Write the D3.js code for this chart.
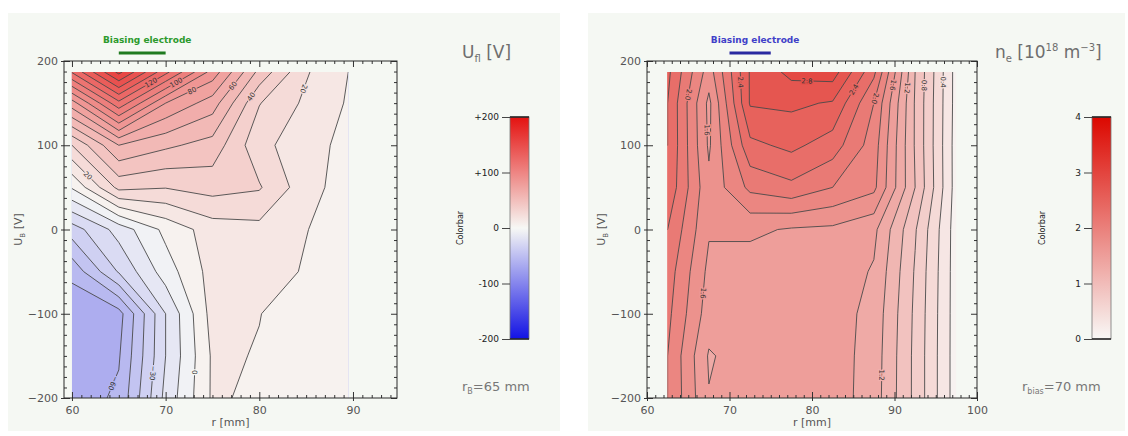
<!DOCTYPE html>
<html>
<head>
<meta charset="utf-8">
<title>Biasing scan: floating potential and density</title>
<script src="https://d3js.org/d3.v7.min.js"></script>
<style>
	body { margin: 0; background: #fff; }
	svg text { font-family: "DejaVu Sans", "Liberation Sans", sans-serif; }
</style>
</head>
<body>
<svg id="chart" width="1128" height="436"></svg>
<script>

// Floating potential U_fl [V]. Rows: bias voltage U_B [V] (top to bottom), columns: radius r [mm]
const ufl_r = [60, 65, 70, 75, 80, 85, 89.5];
const ufl_ub = [187, 150, 100, 50, 0, -50, -100, -150, -200];
const ufl_grid = [
	[121, 163, 123, 86, 47, 21, 10],
	[75.5, 117, 80, 65, 30.5, 18, 9],
	[30, 60, 52, 46, 23, 14, 7],
	[1, 33, 30.5, 34, 31, 14, 5],
	[-35, -16, 2.75, 15, 17, 10.3, 5],
	[-57, -29, -5, 14, 15, 9, 5],
	[-68, -64, -20, 14, 10.2, 6, 4],
	[-68, -61, -20, 11.5, 9.5, 5, 3],
	[-66, -58, -17, 11.5, 7.9, 5, 3]
];
const ufl_levels = [-70, -60, -50, -40, -30, -20, -10, 0, 10, 20, 30, 40, 50, 60, 70, 80, 90, 100, 110, 120, 130, 140, 150, 160];
// labelled contours: [level, r near label, U_B near label]
const ufl_labels = [[120, 68.3, 177], [100, 71.2, 173], [80, 72.9, 163], [60, 76.9, 173], [40, 78.7, 161],
	[20, 84.5, 168], [20, 62.5, 73], [-60, 64.5, -183], [-30, 68.1, -170], [0, 72, -169]];

// Electron density n_e [10^18 m^-3]
const ne_r = [62.5, 67.5, 72.5, 77.5, 82.5, 87.5, 92.5, 97.5];
const ne_ub = [187, 150, 100, 50, 0, -50, -100, -150, -200];
const ne_grid = [
	[2.45, 1.70, 2.62, 2.86, 2.90, 2.25, 1.00, 0.12],
	[2.40, 1.55, 2.62, 2.64, 2.58, 2.00, 0.98, 0.12],
	[2.40, 1.57, 2.35, 2.45, 2.30, 1.90, 0.98, 0.11],
	[2.35, 1.65, 2.05, 2.15, 2.00, 1.85, 1.00, 0.11],
	[2.20, 1.62, 1.64, 1.58, 1.56, 1.45, 0.82, 0.10],
	[2.10, 1.55, 1.50, 1.50, 1.52, 1.38, 0.78, 0.10],
	[2.05, 1.50, 1.50, 1.50, 1.50, 1.33, 0.76, 0.10],
	[2.00, 1.38, 1.50, 1.50, 1.50, 1.31, 0.75, 0.10],
	[2.00, 1.41, 1.50, 1.50, 1.50, 1.30, 0.75, 0.10]
];
const ne_levels = [0.2, 0.4, 0.6, 0.8, 1.0, 1.2, 1.4, 1.6, 1.8, 2.0, 2.2, 2.4, 2.6, 2.8];
const ne_labels = [[2.4, 62.6, 171], [2.0, 65, 160], [1.6, 67.4, 118], [2.8, 79.4, 183], [2.4, 85.6, 163],
	[2.0, 88.2, 154], [1.6, 90.1, 171], [1.2, 91.5, 168], [0.8, 93.7, 171], [0.4, 95.9, 175],
	[1.6, 66.1, -75], [1.2, 89, -173]];

// axes
const left_x_ticks = [60, 70, 80, 90];
const right_x_ticks = [60, 70, 80, 90, 100];
const y_ticks = [200, 100, 0, -100, -200];
const ufl_bar_ticks = [200, 100, 0, -100, -200];
const ne_bar_ticks = [4, 3, 2, 1, 0];

const svg = d3.select('#chart');
const defs = svg.append('defs');

const PANEL_BG = '#f5f8f3';
const ufl_color = d3.scaleLinear().domain([-200, 0, 200]).range(['#1212e4', '#f7f8f5', '#e41210']);
const ne_color = d3.scaleLinear().domain([0, 4]).range(['#f8f8f6', '#dc0800']);

function minorTicks(lo, hi, step, majors) {
	const out = [];
	for (let v = lo; v <= hi + 1e-9; v += step) {
		if (!majors.some(m => Math.abs(m - v) < 1e-6)) out.push(v);
	}
	return out;
}

function drawContours(g, cfg) {
	const nx = cfg.r.length, ny = cfg.ub.length;
	// repeat the border samples once so lines meet the data edge where they should
	const px = nx + 2, py = ny + 2;
	const flat = [];
	for (let j = 0; j < py; j++) {
		const jj = Math.max(0, Math.min(ny - 1, j - 1));
		for (let i = 0; i < px; i++) {
			const ii = Math.max(0, Math.min(nx - 1, i - 1));
			flat.push(cfg.grid[jj][ii]);
		}
	}
	const gx = d3.scaleLinear().domain(cfg.r.map((d, i) => i + 1.5)).range(cfg.r);
	const gy = d3.scaleLinear().domain(cfg.ub.map((d, j) => j + 1.5)).range(cfg.ub);
	const xs = cfg.x, ys = cfg.y;
	const toPx = p => [xs(gx(p[0])), ys(gy(p[1]))];
	const path = d3.geoPath(d3.geoTransform({
		point(x, y) { const q = toPx([x, y]); this.stream.point(q[0], q[1]); }
	}));

	const contours = d3.contours().size([px, py]).thresholds(cfg.levels)(flat);
	const step = cfg.levels[1] - cfg.levels[0];

	const clip = {
		x0: xs(cfg.r[0]), x1: xs(cfg.r[nx - 1]),
		y0: ys(cfg.ub[0]), y1: ys(cfg.ub[ny - 1])
	};
	defs.append('clipPath').attr('id', cfg.id + '-clip')
		.append('rect')
		.attr('x', clip.x0).attr('y', clip.y0)
		.attr('width', clip.x1 - clip.x0).attr('height', clip.y1 - clip.y0);

	const area = g.append('g').attr('clip-path', `url(#${cfg.id}-clip)`);

	area.append('rect')
		.attr('x', clip.x0).attr('y', clip.y0)
		.attr('width', clip.x1 - clip.x0).attr('height', clip.y1 - clip.y0)
		.attr('fill', cfg.color(cfg.levels[0] - step / 2));

	area.selectAll('.band')
		.data(contours)
		.join('path')
		.classed('band', true)
		.attr('d', path)
		.attr('fill', d => cfg.color(d.value + step / 2));

	area.selectAll('.iso')
		.data(contours)
		.join('path')
		.classed('iso', true)
		.attr('d', path)
		.attr('fill', 'none')
		.attr('stroke', '#4a4a4a')
		.attr('stroke-width', 0.9);

	// labels sit on the contour nearest to the requested spot
	cfg.labels.forEach(([level, r, u]) => {
		const c = contours.find(d => Math.abs(d.value - level) < 1e-6);
		if (!c) return;
		const tx = xs(r), ty = ys(u);
		let best = null;
		c.coordinates.forEach(poly => poly.forEach(ring => {
			const pts = ring.map(toPx);
			for (let k = 0; k < pts.length - 1; k++) {
				const [ax, ay] = pts[k], [bx, by] = pts[k + 1];
				const dx = bx - ax, dy = by - ay, L = dx * dx + dy * dy;
				if (L < 1e-9) continue;
				let t = ((tx - ax) * dx + (ty - ay) * dy) / L;
				t = Math.max(0, Math.min(1, t));
				const qx = ax + t * dx, qy = ay + t * dy;
				if (qx < clip.x0 + 3 || qx > clip.x1 - 3 || qy < clip.y0 + 4 || qy > clip.y1 - 4) continue;
				const d2 = (qx - tx) ** 2 + (qy - ty) ** 2;
				if (!best || d2 < best.d2) best = {d2, qx, qy, ang: Math.atan2(dy, dx) * 180 / Math.PI};
			}
		}));
		if (!best) return;
		let ang = best.ang;
		if (ang <= -60) ang += 180;
		if (ang > 120) ang -= 180;
		area.append('text')
			.attr('transform', `translate(${best.qx},${best.qy}) rotate(${ang})`)
			.attr('text-anchor', 'middle')
			.attr('dy', '0.35em')
			.attr('font-size', 7)
			.attr('fill', '#333')
			.attr('stroke', cfg.color(level))
			.attr('stroke-width', 2.5)
			.attr('paint-order', 'stroke')
			.text(cfg.fmt(level));
	});
}

function drawAxes(g, xs, ys, xMajor, xMinor, yMajor, yMinor) {
	const [xl, xr] = xs.range(), [yb, yt] = ys.range();
	const fmt = d => d < 0 ? '\u2212' + (-d) : String(d);
	const tidy = sel => {
		sel.select('.domain').remove();
		sel.attr('color', '#333').attr('font-size', 11);
		sel.selectAll('text').attr('fill', '#555');
	};

	g.append('g').attr('transform', `translate(0,${yb})`)
		.call(d3.axisBottom(xs).tickValues(xMinor).tickSize(-3).tickFormat(''))
		.call(tidy);
	g.append('g').attr('transform', `translate(0,${yb})`)
		.call(d3.axisBottom(xs).tickValues(xMajor).tickSize(-6).tickPadding(8).tickFormat(fmt))
		.call(tidy)
		.call(s => s.selectAll('.tick line').attr('y1', 3));
	g.append('g').attr('transform', `translate(0,${yt})`)
		.call(d3.axisTop(xs).tickValues(xMinor).tickSize(-3).tickFormat(''))
		.call(tidy);
	g.append('g').attr('transform', `translate(0,${yt})`)
		.call(d3.axisTop(xs).tickValues(xMajor).tickSize(-6).tickFormat(''))
		.call(tidy);

	g.append('g').attr('transform', `translate(${xl},0)`)
		.call(d3.axisLeft(ys).tickValues(yMinor).tickSize(-3).tickFormat(''))
		.call(tidy);
	g.append('g').attr('transform', `translate(${xl},0)`)
		.call(d3.axisLeft(ys).tickValues(yMajor).tickSize(-6).tickPadding(6).tickFormat(fmt))
		.call(tidy)
		.call(s => s.selectAll('.tick line').attr('x1', -3));
	g.append('g').attr('transform', `translate(${xr},0)`)
		.call(d3.axisRight(ys).tickValues(yMinor).tickSize(-3).tickFormat(''))
		.call(tidy);
	g.append('g').attr('transform', `translate(${xr},0)`)
		.call(d3.axisRight(ys).tickValues(yMajor).tickSize(-6).tickFormat(''))
		.call(tidy);

	g.append('rect')
		.attr('x', xl).attr('y', yt)
		.attr('width', xr - xl).attr('height', yb - yt)
		.attr('fill', 'none')
		.attr('stroke', '#2a2a2a')
		.attr('stroke-width', 1);

	g.append('text')
		.attr('x', (xl + xr) / 2).attr('y', 426)
		.attr('text-anchor', 'middle')
		.attr('font-size', 11).attr('fill', '#555')
		.text('r [mm]');

	const yl = g.append('text')
		.attr('transform', `translate(${xl - 42},${(yt + yb) / 2}) rotate(-90)`)
		.attr('text-anchor', 'middle')
		.attr('font-size', 11).attr('fill', '#555');
	yl.append('tspan').text('U');
	yl.append('tspan').attr('font-size', 7).attr('dy', 3).text('B');
	yl.append('tspan').attr('dy', -3).text(' [V]');
}

function drawColorbar(g, cfg) {
	const top = 117, bottom = 339, w = 19;
	const cs = d3.scaleLinear().domain(cfg.domain).range([bottom, top]);

	const grad = defs.append('linearGradient')
		.attr('id', cfg.id + '-grad')
		.attr('x1', '0%').attr('y1', '100%')
		.attr('x2', '0%').attr('y2', '0%');
	grad.selectAll('stop')
		.data(d3.range(0, 1.0001, 0.05))
		.join('stop')
		.attr('offset', d => (d * 100) + '%')
		.attr('stop-color', d => cfg.color(cfg.domain[0] + d * (cfg.domain[1] - cfg.domain[0])));

	g.append('rect')
		.attr('x', cfg.x).attr('y', top)
		.attr('width', w).attr('height', bottom - top)
		.attr('fill', `url(#${cfg.id}-grad)`)
		.attr('stroke', '#777').attr('stroke-width', 0.8);
	[top, bottom].forEach(yy => g.append('line')
		.attr('x1', cfg.x).attr('x2', cfg.x + w)
		.attr('y1', yy).attr('y2', yy)
		.attr('stroke', '#222').attr('stroke-width', 1.5));

	g.append('g').attr('transform', `translate(${cfg.x},0)`)
		.call(d3.axisLeft(cs).tickValues(cfg.ticks).tickSize(8).tickPadding(3).tickFormat(cfg.fmt))
		.call(s => {
			s.select('.domain').remove();
			s.attr('color', '#444').attr('font-size', 9);
			s.selectAll('text').attr('fill', '#222');
		});

	g.append('text')
		.attr('transform', `translate(${cfg.x - 47},${(top + bottom) / 2}) rotate(-90)`)
		.attr('text-anchor', 'middle')
		.attr('font-size', 8).attr('fill', '#222')
		.text('Colorbar');
}

function drawElectrode(g, xs, r0, r1, color, barColor) {
	g.append('line')
		.attr('x1', xs(r0)).attr('x2', xs(r1))
		.attr('y1', 53).attr('y2', 53)
		.attr('stroke', barColor).attr('stroke-width', 3);
	g.append('text')
		.attr('x', xs((r0 + r1) / 2) + 5).attr('y', 43)
		.attr('text-anchor', 'middle')
		.attr('font-size', 9).attr('font-weight', 'bold')
		.attr('fill', color)
		.text('Biasing electrode');
}

// panel backgrounds
svg.append('rect').attr('x', 8).attr('y', 13).attr('width', 552).attr('height', 418).attr('fill', PANEL_BG);
svg.append('rect').attr('x', 588).attr('y', 13).attr('width', 537).attr('height', 418).attr('fill', PANEL_BG);

const y_scale = d3.scaleLinear().domain([-200, 200]).range([398, 61]);

// ---- left panel: floating potential
const left = svg.append('g');
const x_left = d3.scaleLinear().domain([59.15, 94.7]).range([64, 397]);
drawContours(left, {
	id: 'ufl', r: ufl_r, ub: ufl_ub, grid: ufl_grid, levels: ufl_levels, labels: ufl_labels,
	x: x_left, y: y_scale, color: ufl_color, fmt: d3.format('d')
});
drawAxes(left, x_left, y_scale, left_x_ticks, minorTicks(60, 94, 1, left_x_ticks),
	y_ticks, minorTicks(-200, 200, 12.5, y_ticks));
drawElectrode(left, x_left, 65, 70, '#2c9a2c', '#1f7a1f');
drawColorbar(left, {
	id: 'ufl', x: 510, domain: [-200, 200], color: ufl_color, ticks: ufl_bar_ticks,
	fmt: d => d > 0 ? '+' + d : String(d)
});

const t1 = left.append('text').attr('x', 462).attr('y', 58).attr('font-size', 17).attr('fill', '#6e6e6e');
t1.append('tspan').text('U');
t1.append('tspan').attr('font-size', 10).attr('dy', 4).text('fl');
t1.append('tspan').attr('dy', -4).text(' [V]');

const rb1 = left.append('text').attr('x', 462).attr('y', 391).attr('font-size', 13).attr('fill', '#777');
rb1.append('tspan').text('r');
rb1.append('tspan').attr('font-size', 8).attr('dy', 3).text('B');
rb1.append('tspan').attr('dy', -3).text('=65 mm');

// ---- right panel: density
const right = svg.append('g');
const x_right = d3.scaleLinear().domain([60, 100]).range([647, 977]);
drawContours(right, {
	id: 'ne', r: ne_r, ub: ne_ub, grid: ne_grid, levels: ne_levels, labels: ne_labels,
	x: x_right, y: y_scale, color: ne_color, fmt: d3.format('.1f')
});
drawAxes(right, x_right, y_scale, right_x_ticks, minorTicks(60, 100, 1, right_x_ticks),
	y_ticks, minorTicks(-200, 200, 12.5, y_ticks));
drawElectrode(right, x_right, 70, 75, '#4040c8', '#2a2aa0');
drawColorbar(right, {
	id: 'ne', x: 1092, domain: [0, 4], color: ne_color, ticks: ne_bar_ticks,
	fmt: d3.format('d')
});

const t2 = right.append('text').attr('x', 995).attr('y', 58).attr('font-size', 17).attr('fill', '#6e6e6e');
t2.append('tspan').text('n');
t2.append('tspan').attr('font-size', 10).attr('dy', 4).text('e');
t2.append('tspan').attr('dy', -4).text(' [10');
t2.append('tspan').attr('font-size', 10).attr('dy', -7).text('18');
t2.append('tspan').attr('dy', 7).text(' m');
t2.append('tspan').attr('font-size', 10).attr('dy', -7).text('\u22123');
t2.append('tspan').attr('dy', 7).text(']');

const rb2 = right.append('text').attr('x', 1022).attr('y', 391).attr('font-size', 13).attr('fill', '#777');
rb2.append('tspan').text('r');
rb2.append('tspan').attr('font-size', 8).attr('dy', 3).text('bias');
rb2.append('tspan').attr('dy', -3).text('=70 mm');

</script>
</body>
</html>
